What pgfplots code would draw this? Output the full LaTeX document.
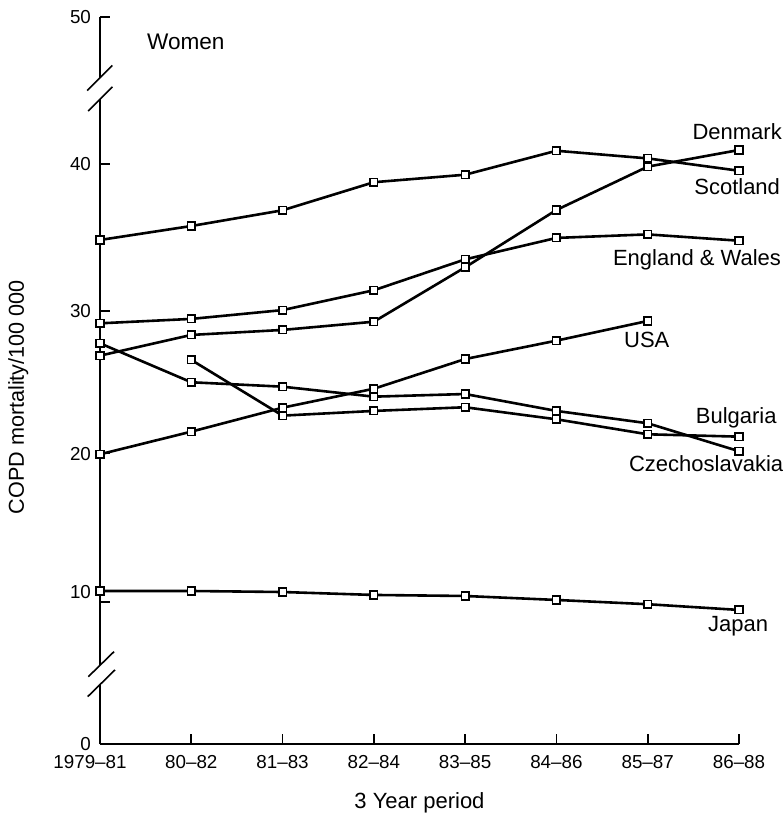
\documentclass[border=0pt]{standalone}
\usepackage{fontspec}
\setmainfont{Liberation Sans}
\usepackage{pgfplots}
\pgfplotsset{compat=1.18}
\pgfplotstableread{
x scot den eng usa cze jap
0 34.83 26.96 29.16 20.25 27.80 10.95
1 35.78 28.37 29.46 21.79 25.15 10.95
2 36.85 28.71 30.06 23.42 24.85 10.88
3 38.76 29.27 31.41 24.71 24.17 10.68
4 39.27 32.97 33.51 26.73 24.35 10.61
5 40.90 36.87 34.97 27.98 23.20 10.34
6 40.38 39.82 35.21 29.32 22.36 10.05
7 39.54 40.95 34.78 nan   20.46 9.66
}\maintab
\pgfplotstableread{
x bul
1 26.67
2 22.88
3 23.20
4 23.45
5 22.63
6 21.61
7 21.45
}\bultab
\begin{document}
\begin{tikzpicture}
\begin{axis}[
  name=ax,
  scale only axis, width=319.5pt, height=363.5pt,
  xmin=0, xmax=7, ymin=0.54, ymax=50,
  axis lines=left, axis line style={-, line width=0.8pt},
  clip=false,
  xtick={0,...,7},
  xticklabels={\makebox[0pt][c]{\kern-10pt 1979--81},80--82,81--83,82--84,83--85,84--86,85--87,86--88},
  ytick={0.54,20.3,30,40,50},
  yticklabels={0,20,30,40,50},
  extra y ticks={10.2}, extra y tick labels={10},
  extra y tick style={yticklabel style={yshift=5pt}},
  tick align=inside, major tick length=5pt,
  tick style={line width=0.8pt, black},
  ticklabel style={font=\fontsize{9.4}{11}\selectfont},
  xticklabel style={anchor=base, yshift=-12pt},
  yticklabel style={xshift=-1pt},
  xlabel={3 Year period},
  xlabel style={at={(axis description cs:0.5,0)}, anchor=base, yshift=-32pt, font=\fontsize{11}{13}\selectfont},
  ylabel={COPD mortality/100 000},
  ylabel style={at={(axis description cs:-0.128,0.477)}, anchor=center, font=\fontsize{10.8}{13}\selectfont},
  every axis plot post/.append style={black, solid, line width=1.3pt, mark=square*, mark size=1.9pt,
    mark options={fill=white, draw=black, line width=0.75pt, solid}},
  unbounded coords=jump,
]
\addplot table[x=x, y=scot] {\maintab};
\addplot table[x=x, y=den] {\maintab};
\addplot table[x=x, y=eng] {\maintab};
\addplot table[x=x, y=usa] {\maintab};
\addplot table[x=x, y=cze] {\maintab};
\addplot table[x=x, y=bul] {\bultab};
\addplot table[x=x, y=jap] {\maintab};

% axis breaks
\draw[white, line width=3pt] (axis cs:0,44.41) -- (axis cs:0,45.87);
\draw[line width=0.8pt] (axis cs:-0.14,45.0) -- (axis cs:0.135,46.7);
\draw[line width=0.8pt] (axis cs:-0.13,43.6) -- (axis cs:0.135,45.25);
\draw[white, line width=3pt] (axis cs:0,4.58) -- (axis cs:0,5.90);
\draw[line width=0.8pt] (axis cs:-0.128,5.12) -- (axis cs:0.153,6.82);
\draw[line width=0.8pt] (axis cs:-0.135,3.76) -- (axis cs:0.164,5.58);

\begin{scope}[every node/.style={font=\fontsize{11}{13}\selectfont, inner sep=0pt}]
\node at (axis cs:0.94,48.3) {\fontsize{11.3}{13}\selectfont Women};
\node at (axis cs:6.98,42.18) {Denmark};
\node at (axis cs:6.98,38.44) {Scotland};
\node at (axis cs:6.54,33.47) {England \& Wales};
\node at (axis cs:5.99,28.03) {USA};
\node at (axis cs:6.97,22.72) {Bulgaria};
\node at (axis cs:6.64,19.6) {Czechoslavakia};
\node at (axis cs:6.99,8.57) {Japan};
\end{scope}
\end{axis}
\pgfresetboundingbox
\path[use as bounding box] ([shift={(-50pt,-36pt)}]ax.south west) rectangle ([shift={(22.5pt,8.5pt)}]ax.north east);
\end{tikzpicture}
\end{document}
